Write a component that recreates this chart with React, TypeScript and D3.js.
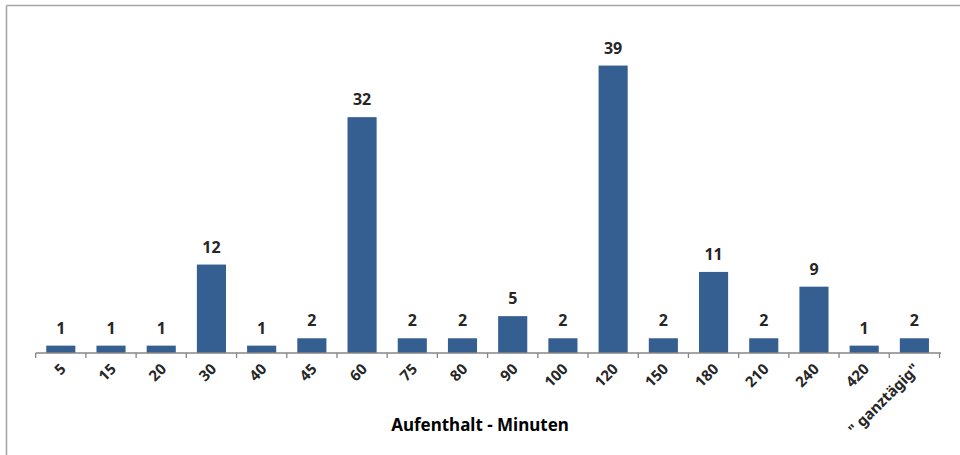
import React from "react";
import * as d3 from "d3";

const categories = ["5", "15", "20", "30", "40", "45", "60", "75", "80", "90", "100", "120", "150", "180", "210", "240", "420", "\" ganztägig\""];
const values = [1, 1, 1, 12, 1, 2, 32, 2, 2, 5, 2, 39, 2, 11, 2, 9, 1, 2];
const axisTitle = "Aufenthalt - Minuten";

const W = 960;
const H = 455;
const FONT = "'Noto Sans', 'Open Sans', sans-serif";

export default function App() {
  const left = 35.7;
  const right = 939.5;
  const baseline = 353;
  const x = d3.scaleBand<string>().domain(categories).range([left, right]).paddingInner(0.42).paddingOuter(0.21);
  const y = d3.scaleLinear().domain([0, 45]).range([baseline, baseline - 45 * 7.37]);
  const step = x.step();
  const ticks = d3.range(categories.length + 1).map((i) => left + i * step);

  return (
    <svg width={W} height={H} style={{ position: "absolute", left: 0, top: 0, background: "#fff" }}>
      <rect x={0} y={0} width={W} height={H} fill="#fff" />
      <line x1={6.5} y1={5.5} x2={W} y2={5.5} stroke="#A6A6A6" strokeWidth={1.6} />
      <line x1={6.5} y1={5.5} x2={6.5} y2={H} stroke="#A6A6A6" strokeWidth={1.6} />
      {categories.map((c, i) => (
        <rect key={c} x={x(c)} y={y(values[i])} width={x.bandwidth()} height={baseline - y(values[i])} fill="#365F91" />
      ))}
      <line x1={left} y1={baseline} x2={right + 1.5} y2={baseline} stroke="#868686" strokeWidth={1.3} />
      {ticks.map((t, i) => (
        <line key={i} x1={t} y1={baseline} x2={t} y2={baseline + 5} stroke="#868686" strokeWidth={1.3} />
      ))}
      {categories.map((c, i) => (
        <text key={"v" + c} x={(x(c) as number) + x.bandwidth() / 2} y={y(values[i]) - 12} textAnchor="middle" fontFamily={FONT} fontWeight="bold" fontSize={16} fill="#262626">
          {values[i]}
        </text>
      ))}
      {categories.map((c) => {
        const cx = (x(c) as number) + x.bandwidth() / 2;
        return (
          <text key={"t" + c} transform={`translate(${cx + 6},${baseline + 17}) rotate(-45)`} textAnchor="end" fontFamily={FONT} fontWeight="bold" fontSize={15} fill="#262626">
            {c}
          </text>
        );
      })}
      <text x={480} y={431} textAnchor="middle" fontFamily={FONT} fontWeight="bold" fontSize={17} fill="#000">
        {axisTitle}
      </text>
    </svg>
  );
}
